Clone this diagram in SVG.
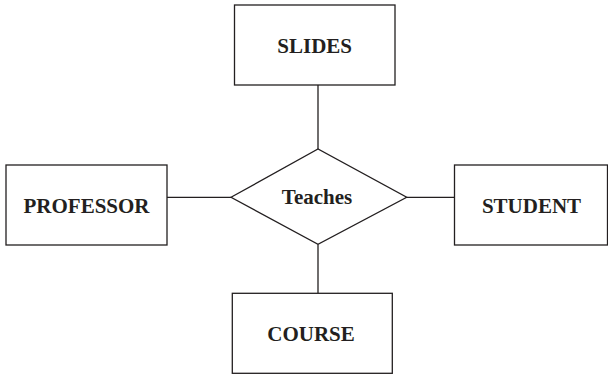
<svg xmlns="http://www.w3.org/2000/svg" width="608" height="375" viewBox="0 0 608 375">
<style>
.b{fill:#fff;stroke:#231f20;stroke-width:1.3}
.c{stroke:#231f20;stroke-width:1.3;fill:none}
text{font-family:"Liberation Serif","Times New Roman",serif;font-weight:bold;font-size:21px;fill:#231f20;text-anchor:middle}
</style>
<rect width="608" height="375" fill="#fff"/>
<g id="connectors">
<line class="c" x1="318" y1="85" x2="318" y2="149"/>
<line class="c" x1="167" y1="197.3" x2="231" y2="197.3"/>
<line class="c" x1="406.7" y1="197.3" x2="454.5" y2="197.3"/>
<line class="c" x1="318" y1="244.3" x2="318" y2="293.3"/>
</g>
<g id="slides"><rect class="b" x="234.5" y="5" width="160.5" height="80"/><text x="314.7" y="53">SLIDES</text></g>
<g id="professor"><rect class="b" x="6" y="165" width="161" height="80"/><text x="86.5" y="213.3">PROFESSOR</text></g>
<g id="teaches"><polygon class="b" points="231,197.3 318,149 406.7,197.3 318,244.3"/><text x="317" y="204.3">Teaches</text></g>
<g id="student"><rect class="b" x="454.5" y="165" width="153" height="80"/><text x="531.5" y="213.3">STUDENT</text></g>
<g id="course"><rect class="b" x="232.3" y="293.3" width="160" height="80"/><text x="311" y="340.7">COURSE</text></g>
</svg>
